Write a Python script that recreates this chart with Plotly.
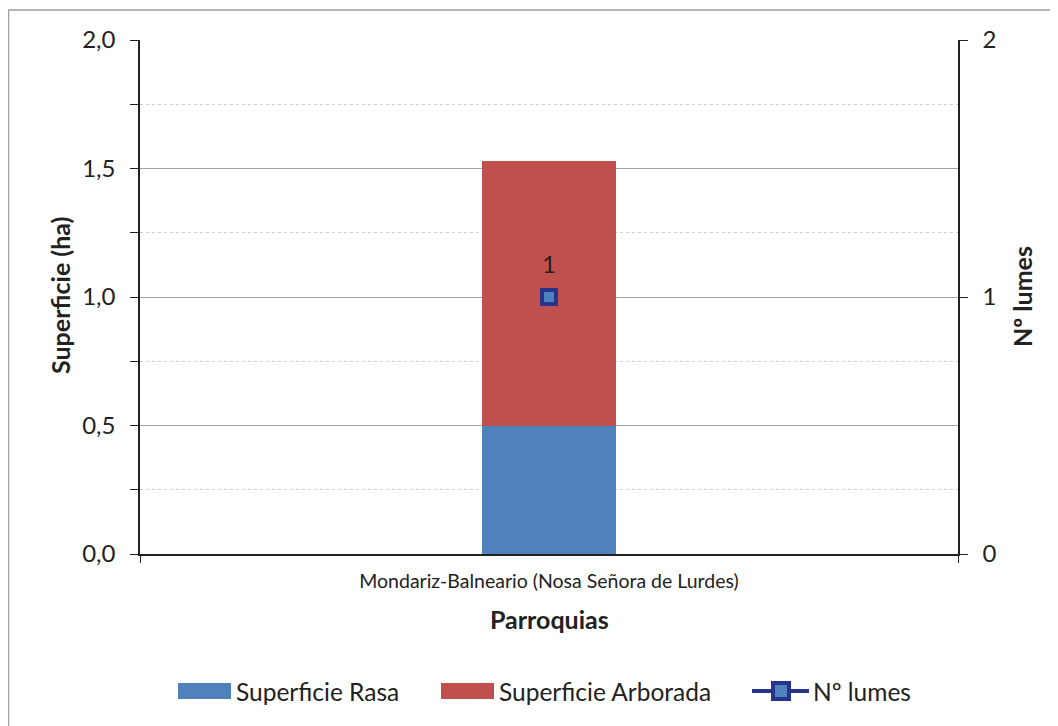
import plotly.graph_objects as go

categories = ["Mondariz-Balneario (Nosa Señora de Lurdes)"]
sup_rasa = [0.50]
sup_arborada = [1.03]
n_lumes = [1]
series_names = ["Superficie Rasa", "Superficie Arborada", "Nº lumes"]

FONT = "Lato"
BLUE = "#4f81bd"
RED = "#c0504d"
NAVY = "#27348b"

# plot area in screen px (reference): x 140..958, y 40..554
def px(sx):
    return (sx - 140) / 818

def py(sy):
    return (554 - sy) / 514

fig = go.Figure()
fig.add_trace(go.Bar(x=categories, y=sup_rasa, name=series_names[0],
                     marker=dict(color=BLUE, line=dict(width=0)), width=0.165))
fig.add_trace(go.Bar(x=categories, y=sup_arborada, name=series_names[1],
                     marker=dict(color=RED, line=dict(width=0)), width=0.165))
fig.add_trace(go.Scatter(x=categories, y=n_lumes, name=series_names[2], yaxis="y2",
                         mode="lines+markers",
                         line=dict(color=NAVY, width=3.5),
                         marker=dict(symbol="square", size=14, color=BLUE,
                                     line=dict(color=NAVY, width=4))))

# data label
for c, v in zip(categories, n_lumes):
    fig.add_annotation(x=c, y=v, xref="x", yref="y2", text=str(v), showarrow=False,
                       xanchor="center", yanchor="middle",
                       yshift=34, font=dict(family=FONT, size=24, color="#222"))

fig.update_layout(
    width=1050, height=718,
    barmode="stack",
    separators=",.",
    showlegend=False,
    paper_bgcolor="white", plot_bgcolor="white",
    margin=dict(l=132, r=100, t=32, b=172),
    font=dict(family=FONT, color="#222"),
    xaxis=dict(showline=True, linecolor="#222", linewidth=1.5,
               ticks="outside", tickson="boundaries", ticklen=7, tickcolor="#222",
               tickfont=dict(size=19.5), ticklabelstandoff=9),
    yaxis=dict(range=[0, 2.0], dtick=0.5, tickformat=".1f",
               showline=True, linecolor="#222", linewidth=1.5,
               ticks="outside", ticklen=8, tickcolor="#222",
               tickfont=dict(size=24), ticklabelstandoff=10,
               showgrid=True, gridcolor="#a6a6a6", gridwidth=1,
               minor=dict(dtick=0.25, showgrid=True, gridcolor="#cfcfcf",
                          griddash="dot", ticks="outside", ticklen=8, tickcolor="#222"),
               zeroline=False),
    yaxis2=dict(range=[0, 2], dtick=1, overlaying="y", side="right",
                showline=True, linecolor="#222", linewidth=1.5,
                ticks="outside", ticklen=8, tickcolor="#222",
                tickfont=dict(size=24), ticklabelstandoff=10,
                showgrid=False, zeroline=False),
)

def label(x, y, text, size, bold=False, angle=0, xanchor="center"):
    fig.add_annotation(xref="paper", yref="paper", x=px(x), y=py(y),
                       text=f"<b>{text}</b>" if bold else text, textangle=angle,
                       xanchor=xanchor, yanchor="middle", showarrow=False,
                       font=dict(size=size))

# axis titles
label(60, 296, "Superficie (ha)", 25, bold=True, angle=-90)
label(1022, 296, "Nº lumes", 25, bold=True, angle=-90)
label(549, 619, "Parroquias", 25, bold=True)

# legend (manual, to match wide swatches)
LY = 691
fig.add_shape(type="rect", xref="paper", yref="paper", x0=px(178), x1=px(231),
              y0=py(LY + 8), y1=py(LY - 8), fillcolor=BLUE, line=dict(width=0))
label(234, LY, series_names[0], 24.5, xanchor="left")
fig.add_shape(type="rect", xref="paper", yref="paper", x0=px(441), x1=px(494),
              y0=py(LY + 8), y1=py(LY - 8), fillcolor=RED, line=dict(width=0))
label(497, LY, series_names[1], 24.5, xanchor="left")
fig.add_shape(type="line", xref="paper", yref="paper", x0=px(752), x1=px(809),
              y0=py(LY), y1=py(LY), line=dict(color=NAVY, width=4))
fig.add_shape(type="rect", xref="paper", yref="paper", x0=px(773), x1=px(789),
              y0=py(LY + 8), y1=py(LY - 8), fillcolor=BLUE, line=dict(color=NAVY, width=4))
label(811, LY, series_names[2], 24.5, xanchor="left")

# outer chart border
fig.add_shape(type="rect", xref="paper", yref="paper",
              x0=px(8.5), x1=px(1070), y0=py(740), y1=py(10),
              line=dict(color="#a0a0a0", width=1.5), fillcolor="rgba(0,0,0,0)", layer="below")

fig.write_html("out.html")
